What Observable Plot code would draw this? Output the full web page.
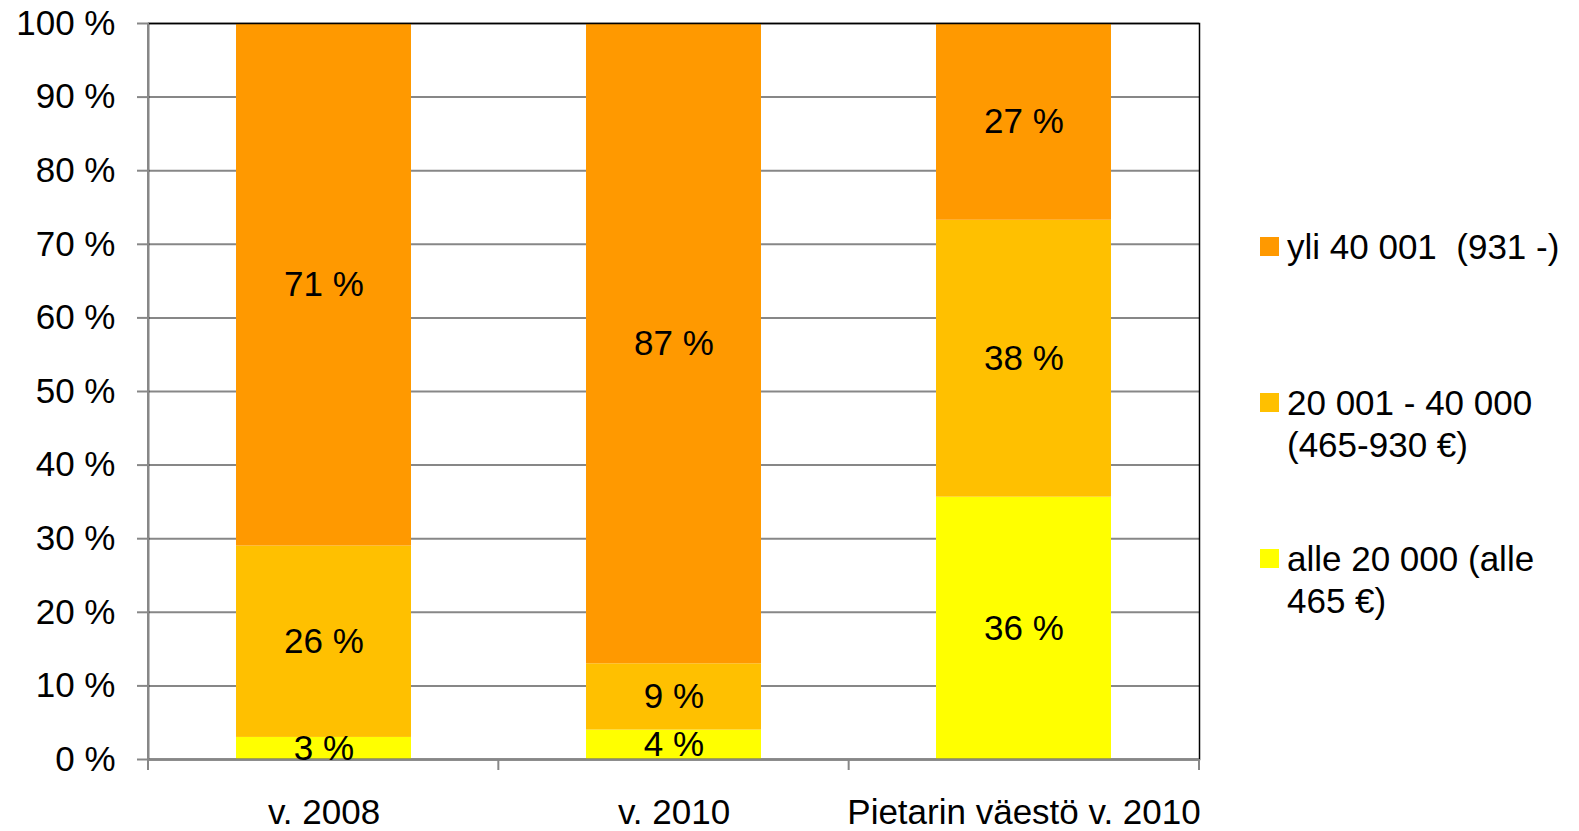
<!DOCTYPE html>
<html><head><meta charset="utf-8">
<script src="https://cdn.jsdelivr.net/npm/d3@7"></script>
<script src="https://cdn.jsdelivr.net/npm/@observablehq/plot@0.6"></script>
<style>
body{margin:0;background:#fff;font-family:"Liberation Sans",Arial,sans-serif;}
#wrap{position:relative;width:1579px;height:831px;}
#legend{position:absolute;left:1260px;top:226px;width:319px;font-size:35px;color:#000;}
.item{height:156px;display:flex;align-items:flex-start;}
.sw{width:19px;height:19px;margin-top:11px;margin-right:8px;flex:none;}
.lb{line-height:42px;white-space:pre-wrap;width:292px;}
</style></head><body><div id="wrap"></div>
<script>
const categories = ["v. 2008", "v. 2010", "Pietarin väestö v. 2010"];
const series = ["alle 20 000 (alle 465 €)", "20 001 - 40 000 (465-930 €)", "yli 40 001  (931 -)"];
const colors = ["#FFFF00", "#FFC000", "#FF9900"];
const values2008 = [3, 26, 71];
const values2010 = [4, 9, 87];
const valuesPietari = [36, 38, 27];
const yTicks = [0, 10, 20, 30, 40, 50, 60, 70, 80, 90, 100];

const valueSets = [values2008, values2010, valuesPietari];
const rows = [];
categories.forEach((c, i) => series.forEach((s, j) => rows.push({cat: c, series: s, value: valueSets[i][j]})));

const W = 1579, H = 831, mL = 148, mR = 380, mT = 23, mB = 72;
const gray = "#878787";
const FS = 35;

const boundaryTicks = (index, scales, values, dims) => {
  const g = d3.create("svg:g");
  const left = dims.marginLeft, right = dims.width - dims.marginRight;
  const y0 = dims.height - dims.marginBottom;
  const step = (right - left) / categories.length;
  for (let i = 0; i <= categories.length; i++) {
    g.append("line").attr("x1", left + i * step).attr("x2", left + i * step)
      .attr("y1", y0).attr("y2", y0 + 11).attr("stroke", gray).attr("stroke-width", 2);
  }
  g.append("line").attr("x1", left).attr("x2", left)
    .attr("y1", dims.marginTop).attr("y2", y0).attr("stroke", gray).attr("stroke-width", 2);
  return g.node();
};

const chart = Plot.plot({
  width: W, height: H,
  marginLeft: mL, marginRight: mR, marginTop: mT, marginBottom: mB,
  style: {fontFamily: "'Liberation Sans', Arial, sans-serif", fontSize: FS + "px", color: "#000", background: "#fff", overflow: "visible"},
  x: {domain: categories, paddingInner: 0.5, paddingOuter: 0.25, label: null},
  y: {domain: [0, 1], label: null},
  color: {domain: series, range: colors},
  marks: [
    Plot.gridY(yTicks.map(t => t / 100), {stroke: gray, strokeOpacity: 1, strokeWidth: 2}),
    Plot.barY(rows, Plot.stackY({x: "cat", y: "value", fill: "series", offset: "normalize", order: series})),
    Plot.frame({stroke: "#000", strokeWidth: 1.5}),
    Plot.ruleY([0], {stroke: gray, strokeWidth: 2}),
    boundaryTicks,
    Plot.text(rows, Plot.stackY({x: "cat", y: "value", z: "series", offset: "normalize", order: series,
      text: d => d.value + " %", fill: "#000", fontSize: FS})),
    Plot.axisY(yTicks.map(t => t / 100), {tickFormat: d => Math.round(d * 100) + " %", tickSize: 11, tickPadding: 22,
      stroke: gray, strokeWidth: 2, fill: "#000", fontSize: FS, label: null}),
    Plot.axisX({tickSize: 0, tickPadding: 40, fontSize: FS, fill: "#000", label: null})
  ]
});

const wrap = document.getElementById("wrap");
wrap.appendChild(chart);

const legend = document.createElement("div");
legend.id = "legend";
series.map((s, j) => ({s, c: colors[j]})).reverse().forEach(({s, c}) => {
  const item = document.createElement("div");
  item.className = "item";
  const sw = document.createElement("div");
  sw.className = "sw"; sw.style.background = c;
  const lb = document.createElement("div");
  lb.className = "lb"; lb.textContent = s;
  item.appendChild(sw); item.appendChild(lb);
  legend.appendChild(item);
});
wrap.appendChild(legend);
</script></body></html>
